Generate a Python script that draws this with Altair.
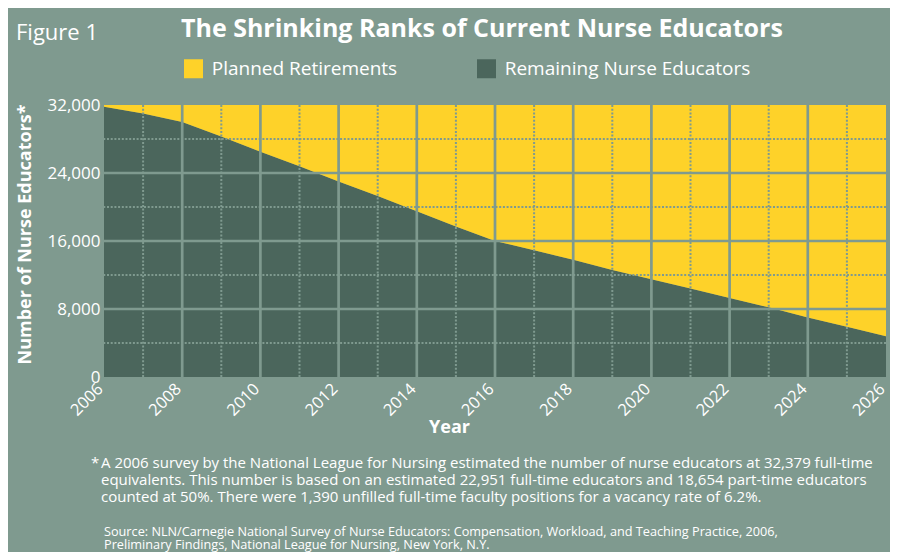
import altair as alt
import pandas as pd

# ---------------- data ----------------
years = list(range(2006, 2027))
remaining = [31800, 31000, 30000, 28300, 26500, 24800, 23000, 21300, 19500, 17700,
             16000, 14900, 13800, 12600, 11500, 10400, 9300, 8200, 7000, 5900, 4800]
capacity = 32000
series_names = ["Planned Retirements", "Remaining Nurse Educators"]
series_colors = ["#fed229", "#4b665c"]

x_ticks = list(range(2006, 2027, 2))
y_ticks = [0, 8000, 16000, 24000, 32000]
major_x = list(range(2008, 2026, 2))
minor_x = list(range(2007, 2026, 2))
major_y = [8000, 16000, 24000]
minor_y = [4000, 12000, 20000, 28000]

title_text = "The Shrinking Ranks of Current Nurse Educators"
figure_label = "Figure 1"
footnote_lines = [
    "A 2006 survey by the National League for Nursing estimated the number of nurse educators at 32,379 full-time",
    "equivalents. This number is based on an estimated 22,951 full-time educators and 18,654 part-time educators",
    "counted at 50%. There were 1,390 unfilled full-time faculty positions for a vacancy rate of 6.2%.",
]
source_lines = [
    "Source: NLN/Carnegie National Survey of Nurse Educators: Compensation, Workload, and Teaching Practice, 2006,",
    "Preliminary Findings, National League for Nursing, New York, N.Y.",
]

rows = []
for yr, r in zip(years, remaining):
    rows.append({"year": yr, "series": series_names[1], "value": r, "ord": 0})
    rows.append({"year": yr, "series": series_names[0], "value": capacity - r, "ord": 1})
df = pd.DataFrame(rows)

BG = "#7f9a8f"
FONT = "Open Sans"
WHITE = "#ffffff"

x_scale = alt.Scale(domain=[2006, 2026], nice=False, zero=False)
y_scale = alt.Scale(domain=[0, 32000], nice=False)

x_axis = alt.Axis(values=x_ticks, format="d", labelExpr="format(datum.value, 'd')",
                  labelAngle=-45, title="Year",
                  grid=False, domain=False, ticks=False,
                  labelAlign="right", labelBaseline="middle", labelOffset=-4,
                  labelFont=FONT, labelFontSize=16.5, labelColor=WHITE, labelPadding=9,
                  labelOverlap=False,
                  titleFont=FONT, titleFontSize=18, titleFontWeight="bold", titleColor=WHITE,
                  titleX=345, titleY=55, titleAlign="center", titleBaseline="alphabetic")
y_axis = alt.Axis(values=y_ticks, format=",", labelExpr="format(datum.value, ',')",
                  title="Number of Nurse Educators*",
                  grid=False, domain=False, ticks=False,
                  labelFont=FONT, labelFontSize=17, labelColor=WHITE, labelPadding=4,
                  labelOverlap=False,
                  titleFont=FONT, titleFontSize=18, titleFontWeight="bold", titleColor=WHITE,
                  titleX=-79, titleY=129, titleAlign="center", titleBaseline="middle")

area = alt.Chart(df).mark_area(opacity=1, strokeWidth=0).encode(
    x=alt.X("year:Q", scale=x_scale, axis=x_axis),
    y=alt.Y("value:Q", stack="zero", scale=y_scale, axis=y_axis),
    color=alt.Color("series:N", scale=alt.Scale(domain=series_names, range=series_colors),
                    legend=alt.Legend(orient="none", legendX=80, legendY=-46, direction="horizontal",
                                      title=None, symbolType="square", symbolSize=361,
                                      symbolStrokeWidth=0, symbolOpacity=1,
                                      labelFont=FONT, labelFontSize=19, labelColor=WHITE,
                                      labelLimit=400, labelOffset=8.7, columnPadding=79,
                                      padding=0)),
    order=alt.Order("ord:Q"),
)

minor_v = alt.Chart(pd.DataFrame({"year": minor_x})).mark_rule(
    color=BG, strokeWidth=2, strokeDash=[2, 1.7]).encode(
    x=alt.X("year:Q", scale=x_scale, axis=x_axis))
minor_h = alt.Chart(pd.DataFrame({"value": minor_y})).mark_rule(
    color=BG, strokeWidth=2, strokeDash=[2, 1.7]).encode(
    y=alt.Y("value:Q", scale=y_scale, axis=y_axis))
major_v = alt.Chart(pd.DataFrame({"year": major_x})).mark_rule(
    color=BG, strokeWidth=2.7).encode(
    x=alt.X("year:Q", scale=x_scale, axis=x_axis))
major_h = alt.Chart(pd.DataFrame({"value": major_y})).mark_rule(
    color=BG, strokeWidth=2.7).encode(
    y=alt.Y("value:Q", scale=y_scale, axis=y_axis))

title_txt = alt.Chart(pd.DataFrame({"t": [title_text]})).mark_text(
    font=FONT, fontSize=25, fontWeight="bold", color=WHITE, align="left", baseline="alphabetic").encode(
    text="t:N", x=alt.value(77), y=alt.value(-68))

fig_txt = alt.Chart(pd.DataFrame({"t": [figure_label]})).mark_text(
    font=FONT, fontSize=22, color=WHITE, align="left", baseline="alphabetic").encode(
    text="t:N", x=alt.value(-88), y=alt.value(-65))

star_txt = alt.Chart(pd.DataFrame({"t": ["*"]})).mark_text(
    font=FONT, fontSize=15, color=WHITE, align="left", baseline="alphabetic").encode(
    text="t:N", x=alt.value(-13), y=alt.value(363))

foot_txt = alt.Chart(pd.DataFrame({"t": ["\n".join(footnote_lines)]})).mark_text(
    font=FONT, fontSize=15, color=WHITE, align="left", baseline="alphabetic",
    lineBreak="\n", lineHeight=17).encode(
    text="t:N", x=alt.value(-3), y=alt.value(363))

src_txt = alt.Chart(pd.DataFrame({"t": ["\n".join(source_lines)]})).mark_text(
    font=FONT, fontSize=12.7, color=WHITE, align="left", baseline="alphabetic",
    lineBreak="\n", lineHeight=13).encode(
    text="t:N", x=alt.value(0), y=alt.value(431))

chart = alt.layer(
    area, minor_v, minor_h, major_v, major_h, title_txt, fig_txt, star_txt, foot_txt, src_txt
).properties(
    width=782, height=272,
    background=BG,
    padding={"left": 96, "top": 97, "right": 4, "bottom": 175},
    autosize=alt.AutoSizeParams(type="none"),
).configure_view(stroke=None)

chart.save("out.html", embed_options={"renderer": "svg", "actions": False})
